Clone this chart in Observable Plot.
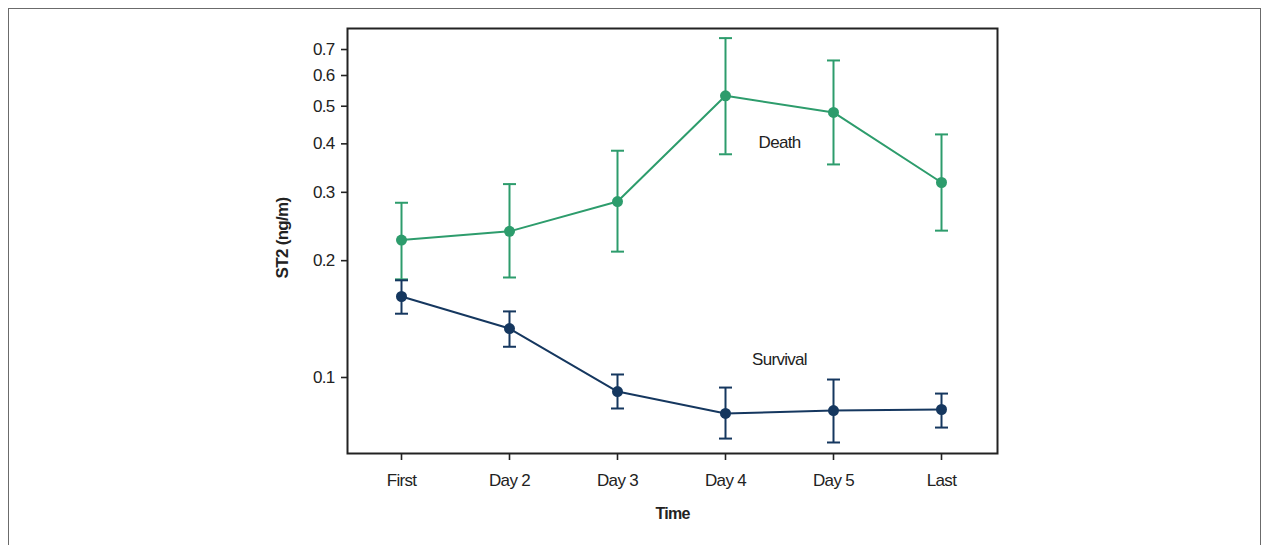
<!DOCTYPE html>
<html>
<head>
<meta charset="utf-8">
<script src="https://cdn.jsdelivr.net/npm/d3@7"></script>
<script src="https://cdn.jsdelivr.net/npm/@observablehq/plot@0.6"></script>
<style>
  html, body { margin: 0; padding: 0; background: #fff; }
  #wrap { position: relative; width: 1266px; height: 545px; overflow: hidden; }
  #border { position: absolute; left: 8px; top: 8px; width: 1253px; height: 560px;
            border: 1.5px solid #6b6b6b; box-sizing: border-box; }
  #chart { position: absolute; left: 0; top: 0; }
  svg { font-family: "Liberation Sans Narrow", "Arial Narrow", "Liberation Sans", Arial, sans-serif; letter-spacing: -0.7px; }
</style>
</head>
<body>
<div id="wrap"><div id="border"></div><div id="chart"></div></div>
<script>
const categories = ["First", "Day 2", "Day 3", "Day 4", "Day 5", "Last"];
const yTicks = [0.1, 0.2, 0.3, 0.4, 0.5, 0.6, 0.7];

const deathMean  = [0.226, 0.238, 0.284, 0.532, 0.482, 0.318];
const deathUpper = [0.282, 0.315, 0.384, 0.749, 0.656, 0.423];
const deathLower = [0.179, 0.181, 0.211, 0.376, 0.354, 0.239];

const survMean  = [0.1617, 0.1337, 0.0920, 0.0808, 0.0822, 0.0827];
const survUpper = [0.178, 0.148, 0.1018, 0.0942, 0.0988, 0.0909];
const survLower = [0.146, 0.120, 0.0832, 0.0696, 0.0680, 0.0743];

const seriesNames = ["Death", "Survival"];
const seriesColors = ["#2d9c6c", "#15375f"];
const seriesLabels = [
  {series: "Death", x: "Day 4", value: 0.404},
  {series: "Survival", x: "Day 4", value: 0.1113}
];

const rows = [];
categories.forEach((c, i) => {
  rows.push({series: "Death", time: c, mean: deathMean[i], lo: deathLower[i], hi: deathUpper[i]});
  rows.push({series: "Survival", time: c, mean: survMean[i], lo: survLower[i], hi: survUpper[i]});
});
const caps = rows.flatMap(d => [{series: d.series, time: d.time, v: d.lo}, {series: d.series, time: d.time, v: d.hi}]);

const capSymbol = {
  draw(context) { context.moveTo(-6.5, 0); context.lineTo(6.5, 0); }
};

const color = {domain: seriesNames, range: seriesColors};

const chart = Plot.plot({
  width: 1266,
  height: 545,
  marginLeft: 347,
  marginRight: 269,
  marginTop: 28,
  marginBottom: 92,
  style: {fontSize: "17px", color: "#222", background: "transparent"},
  x: {type: "point", domain: categories, range: [401, 941], padding: 0, label: null},
  y: {type: "log", domain: [0.0637, 0.793], label: null},
  color: color,
  marks: [
    Plot.axisY({ticks: yTicks, tickFormat: d => d.toFixed(1), tickSize: 6, tickPadding: 7, label: null, stroke: "#222", strokeWidth: 1.6}),
    Plot.axisX({tickSize: 7, tickPadding: 13, label: null, stroke: "#222", strokeWidth: 1.6}),
    Plot.frame({stroke: "#222", strokeWidth: 2}),
    Plot.ruleX(rows, {x: "time", y1: "lo", y2: "hi", stroke: d => d.series, strokeWidth: 2}),
    Plot.dot(caps, {x: "time", y: "v", symbol: capSymbol, stroke: d => d.series, strokeWidth: 2, fill: "none"}),
    Plot.line(rows, {x: "time", y: "mean", z: "series", stroke: d => d.series, strokeWidth: 2}),
    Plot.dot(rows, {x: "time", y: "mean", fill: d => d.series, r: 5.5, stroke: "none"}),
    Plot.text(seriesLabels, {x: "x", y: "value", text: "series", dx: 54, fill: "#222", fontSize: 17}),
    Plot.text(["ST2 (ng/m)"], {frameAnchor: "left", textAnchor: "middle", dx: -65, dy: -3, rotate: -90, fontWeight: "bold", fontSize: 17, fill: "#222"}),
    Plot.text(["Time"], {frameAnchor: "bottom", dy: 65, fontWeight: "bold", fontSize: 16, fill: "#222"})
  ]
});
document.getElementById("chart").appendChild(chart);
</script>
</body>
</html>
